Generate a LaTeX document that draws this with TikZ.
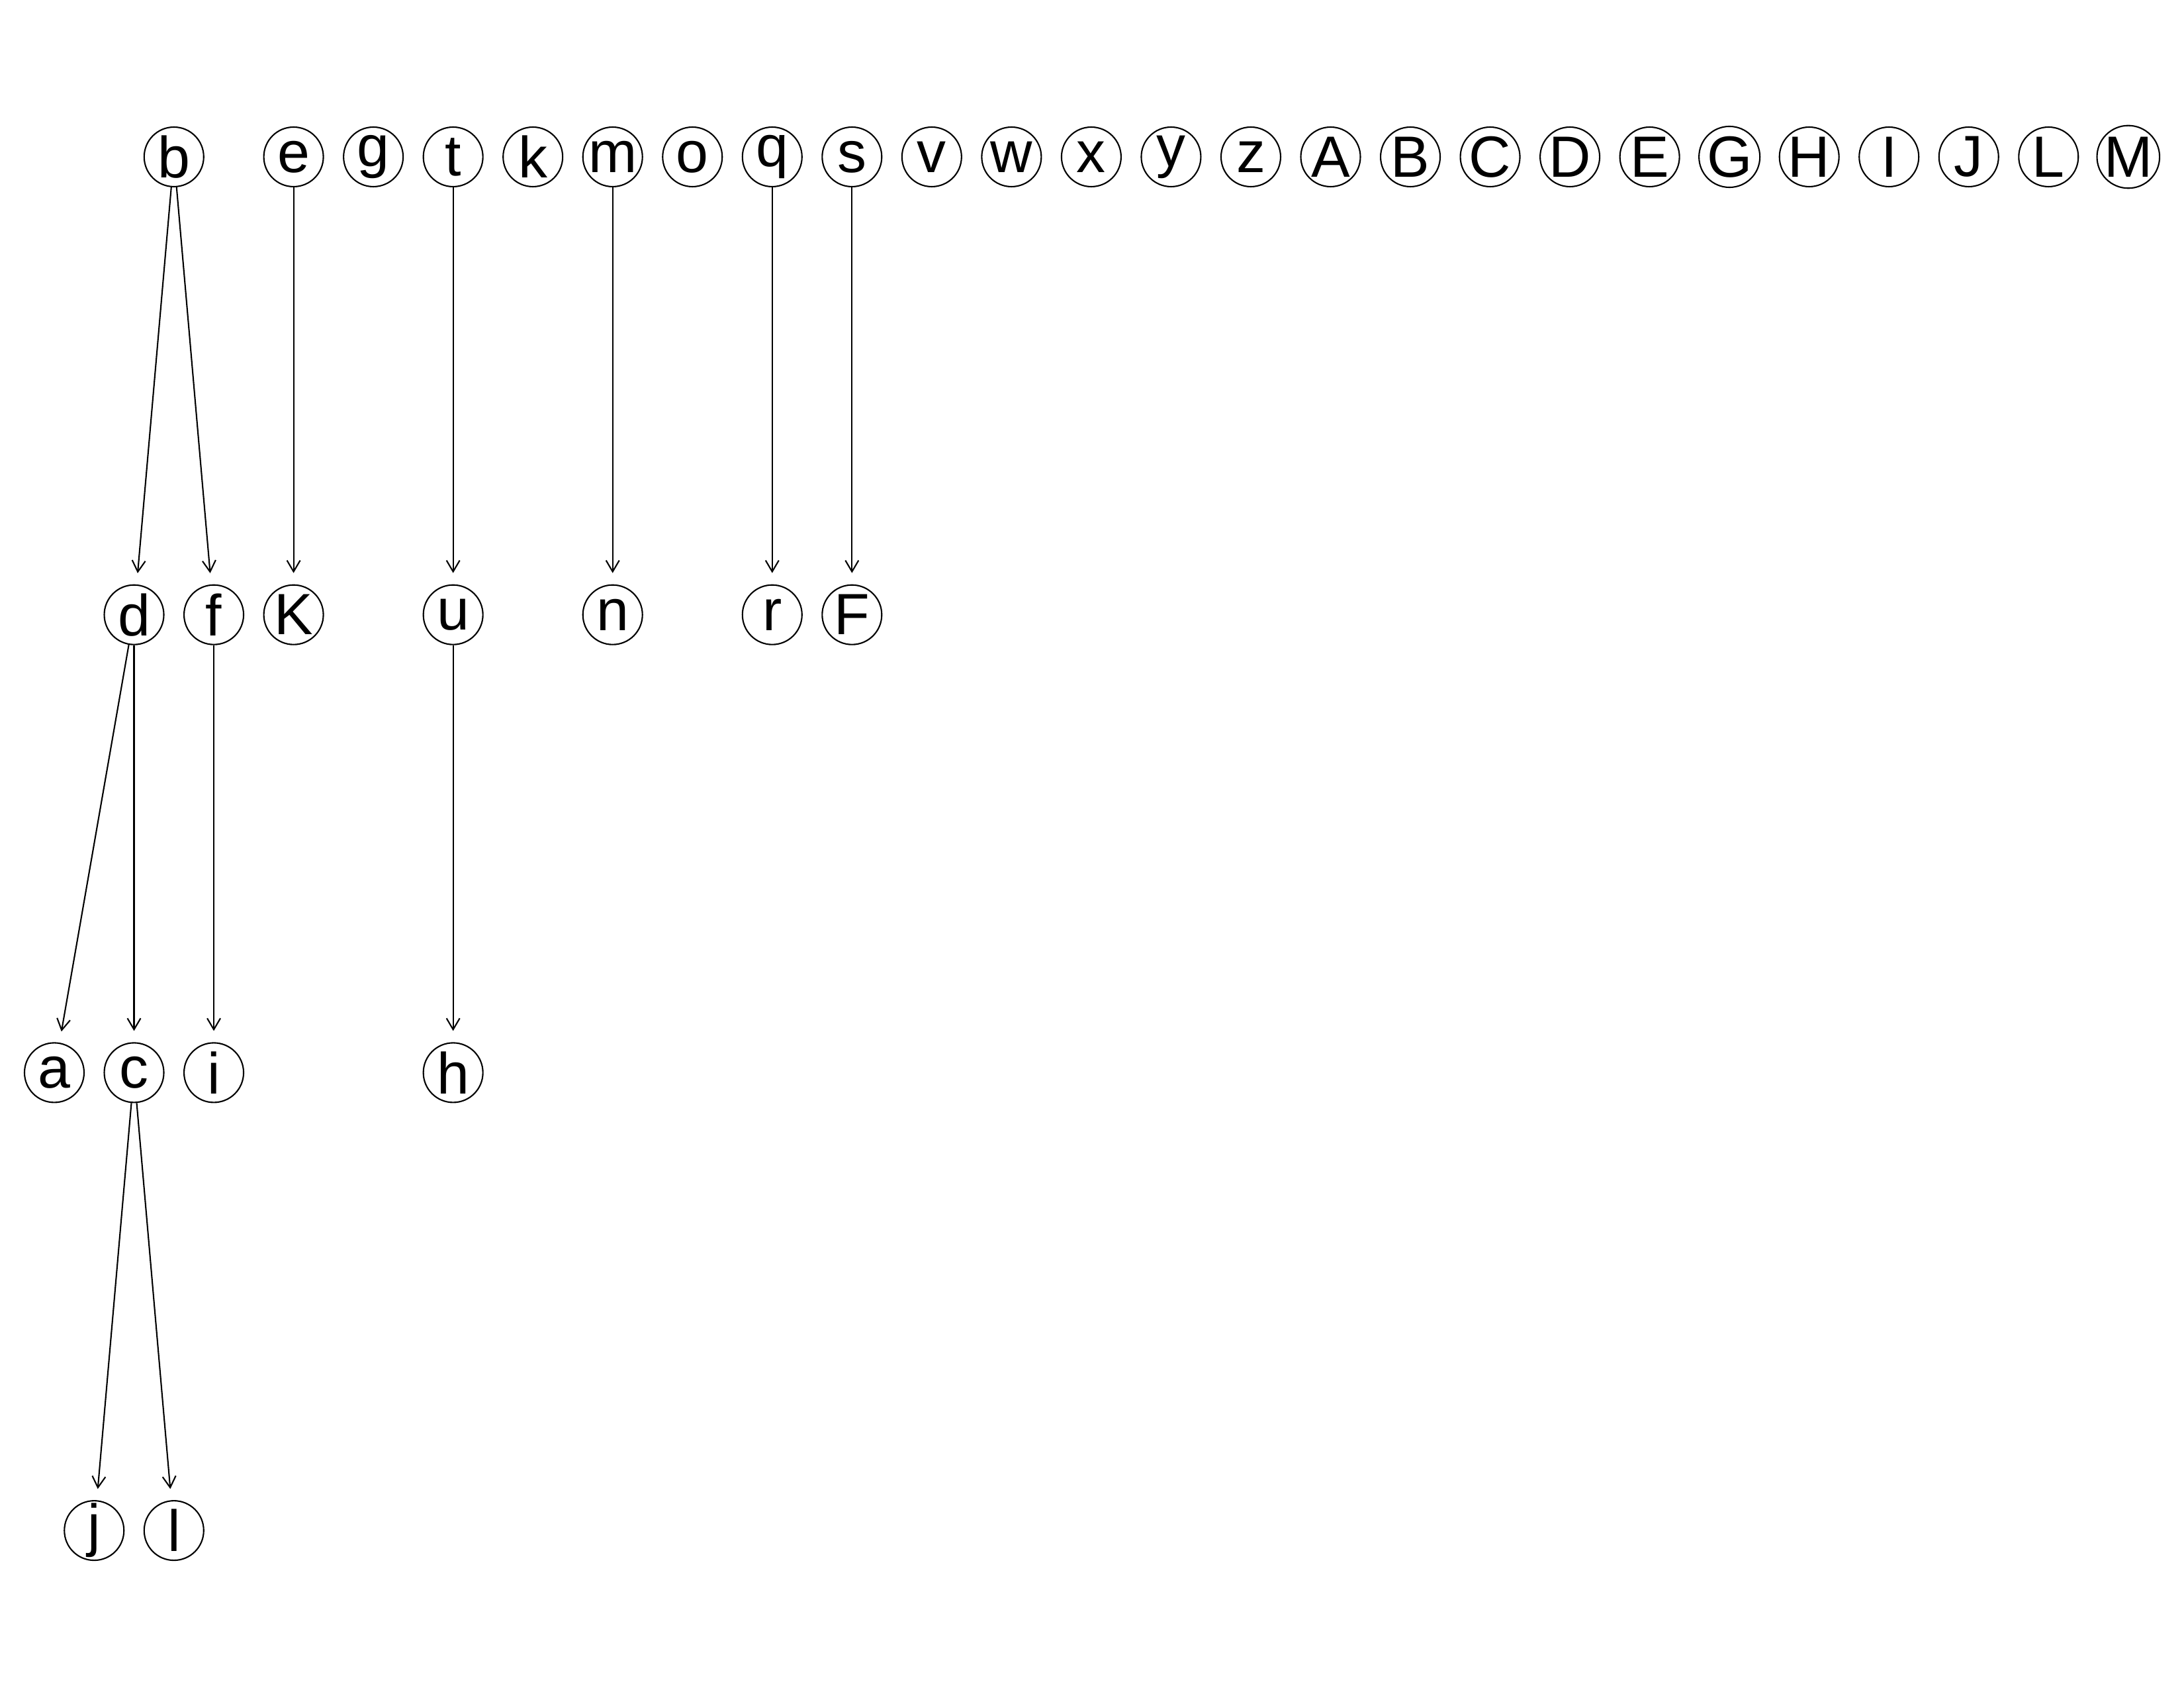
\documentclass[tikz,border=0pt]{standalone}
\usepackage{fontspec}
\setmainfont{Liberation Sans}
\usetikzlibrary{arrows.meta}

\begin{document}
\begin{tikzpicture}[x=1.2053cm,y=-6.917cm,
    vertex/.style={draw,circle,line width=0.6pt,minimum size=0.9cm,inner sep=0pt,
        font=\fontsize{25}{30}\selectfont},
    >={Straight Barb[length=1.7mm,width=2mm]},
    link/.style={->,line width=0.6pt,shorten >=1.7mm}]
    \useasboundingbox (-0.82cm,2.37cm) rectangle (32.18cm,-23.13cm);

    \node[vertex](b) at (1.5,0){b};
    \node[vertex](e) at (3,0){e};
    \node[vertex](g) at (4,0){g};
    \node[vertex](t) at (5,0){t};
    \node[vertex](k) at (6,0){k};
    \node[vertex](m) at (7,0){m};
    \node[vertex](o) at (8,0){o};
    \node[vertex](q) at (9,0){q};
    \node[vertex](s) at (10,0){s};
    \node[vertex](v) at (11,0){v};
    \node[vertex](w) at (12,0){w};
    \node[vertex](x) at (13,0){x};
    \node[vertex](y) at (14,0){y};
    \node[vertex](z) at (15,0){z};
    \node[vertex](A) at (16,0){A};
    \node[vertex](B) at (17,0){B};
    \node[vertex](C) at (18,0){C};
    \node[vertex](D) at (19,0){D};
    \node[vertex](E) at (20,0){E};
    \node[vertex](G) at (21,0){G};
    \node[vertex](H) at (22,0){H};
    \node[vertex](I) at (23,0){I};
    \node[vertex](J) at (24,0){J};
    \node[vertex](L) at (25,0){L};
    \node[vertex](M) at (26,0){M};

    \node[vertex](d) at (1,1){d};
    \node[vertex](f) at (2,1){f};
    \node[vertex](K) at (3,1){K};
    \node[vertex](u) at (5,1){u};
    \node[vertex](n) at (7,1){n};
    \node[vertex](r) at (9,1){r};
    \node[vertex](F) at (10,1){F};

    \node[vertex](a) at (0,2){a};
    \node[vertex](c) at (1,2){c};
    \node[vertex](i) at (2,2){i};
    \node[vertex](h) at (5,2){h};

    \node[vertex](j) at (0.5,3){j};
    \node[vertex](l) at (1.5,3){l};

    \draw[link](b)--(d);
    \draw[link](b)--(f);
    \draw[link](e)--(K);
    \draw[link](t)--(u);
    \draw[link](m)--(n);
    \draw[link](q)--(r);
    \draw[link](s)--(F);
    \draw[link](d)--(a);
    \draw[link](d)--(c);
    \draw[link](f)--(i);
    \draw[link](u)--(h);
    \draw[link](c)--(j);
    \draw[link](c)--(l);
\end{tikzpicture}
\end{document}
